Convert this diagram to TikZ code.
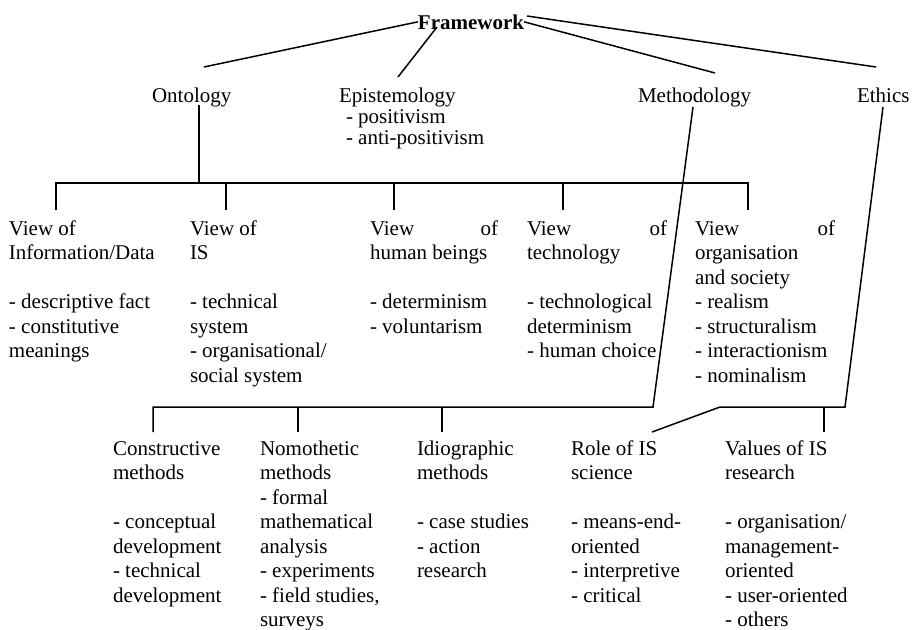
\documentclass[tikz,border=0pt]{standalone}
\usepackage{fontspec}
\setmainfont{Liberation Serif}
% A left-aligned block of lines whose baseline is that of its first line.
\newcommand\colblock[1]{\vtop{\let\\\cr\halign{##\hfil\cr#1\crcr}}}
\begin{document}
\begin{tikzpicture}[x=1pt,y=-1pt,
  every node/.style={inner sep=0pt, outer sep=0pt, anchor=base west,
    font=\fontsize{21}{24.5}\selectfont},
  link/.style={line width=1.5pt}]
\useasboundingbox (0,0) rectangle (912,629);

% ---------- top level ----------
\node[anchor=base] (fw) at (471,29) {\bfseries Framework};
\node (ont)  at (152,102) {Ontology};
\node[font=\fontsize{21}{21}\selectfont] (epi) at (339,102)
  {\colblock{Epistemology\\\hspace*{7pt}- positivism\\\hspace*{7pt}- anti-positivism}};
\node (meth) at (638,102) {Methodology};
\node (eth)  at (857,102) {Ethics};

% ---------- ontology views ----------
\node (vinfo) at (9,235)   {\colblock{View of\\Information/Data\\\\- descriptive fact\\- constitutive\\meanings}};
\node (vis)   at (190,235) {\colblock{View of\\IS\\\\- technical\\system\\- organisational/\\social system}};
\node (vhum)  at (370,235) {\colblock{\hbox to 128pt{View\hfill of}\\human beings\\\\- determinism\\- voluntarism}};
\node (vtech) at (527,235) {\colblock{\hbox to 140pt{View\hfill of}\\technology\\\\- technological\\determinism\\- human choice}};
\node (vorg)  at (695,235) {\colblock{\hbox to 140pt{View\hfill of}\\organisation\\and society\\- realism\\- structuralism\\- interactionism\\- nominalism}};

% ---------- methods and values ----------
\node (mcons) at (113,455) {\colblock{Constructive\\methods\\\\- conceptual\\development\\- technical\\development}};
\node (mnomo) at (260,455) {\colblock{Nomothetic\\methods\\- formal\\mathematical\\analysis\\- experiments\\- field studies,\\surveys}};
\node (midio) at (417,455) {\colblock{Idiographic\\methods\\\\- case studies\\- action\\research}};
\node (rrole) at (571,455) {\colblock{Role of IS\\science\\\\- means-end-\\oriented\\- interpretive\\- critical}};
\node (rval)  at (725,455) {\colblock{Values of IS\\research\\\\- organisation/\\management-\\oriented\\- user-oriented\\- others}};

% ---------- joints ----------
\coordinate (fwA)    at (437,27);
\coordinate (fwB)    at (527,16);
\coordinate (ontIn)  at (204,67);
\coordinate (epiIn)  at (398,77);
\coordinate (methIn) at (715,73);
\coordinate (ethIn)  at (876,67);

\coordinate (ontOut) at (199,105);
\coordinate (ontBar) at (199,183);
\coordinate (t1) at (56,210);
\coordinate (t2) at (226,210);
\coordinate (t3) at (394,210);
\coordinate (t4) at (563,210);
\coordinate (t5) at (748,210);

\coordinate (methOut) at (693,107);
\coordinate (methBar) at (653,407);
\coordinate (m1) at (153,432);
\coordinate (m2) at (298,432);
\coordinate (m3) at (442,432);

\coordinate (ethOut) at (883,107);
\coordinate (ethBar) at (845,407);
\coordinate (ethL)   at (720,407);
\coordinate (roleIn) at (652,432);
\coordinate (valIn)  at (824,432);

% ---------- connectors from the framework ----------
\draw[link] (fw.west) -- (ontIn);
\draw[link] (fwA) -- (epiIn);
\draw[link] (fw.east) -- (methIn);
\draw[link] (fwB) -- (ethIn);

% ---------- ontology tree ----------
\draw[link] (ontOut) -- (ontBar);
\draw[link] (t1) -- (t1 |- ontBar) -- (t5 |- ontBar) -- (t5);
\draw[link] (t2) -- (t2 |- ontBar);
\draw[link] (t3) -- (t3 |- ontBar);
\draw[link] (t4) -- (t4 |- ontBar);

% ---------- methodology tree ----------
\draw[link] (methOut) -- (methBar) -- (m1 |- methBar) -- (m1);
\draw[link] (m2) -- (m2 |- methBar);
\draw[link] (m3) -- (m3 |- methBar);

% ---------- ethics tree ----------
\draw[link] (ethOut) -- (ethBar) -- (ethL) -- (roleIn);
\draw[link] (valIn) -- (valIn |- ethBar);
\end{tikzpicture}
\end{document}
